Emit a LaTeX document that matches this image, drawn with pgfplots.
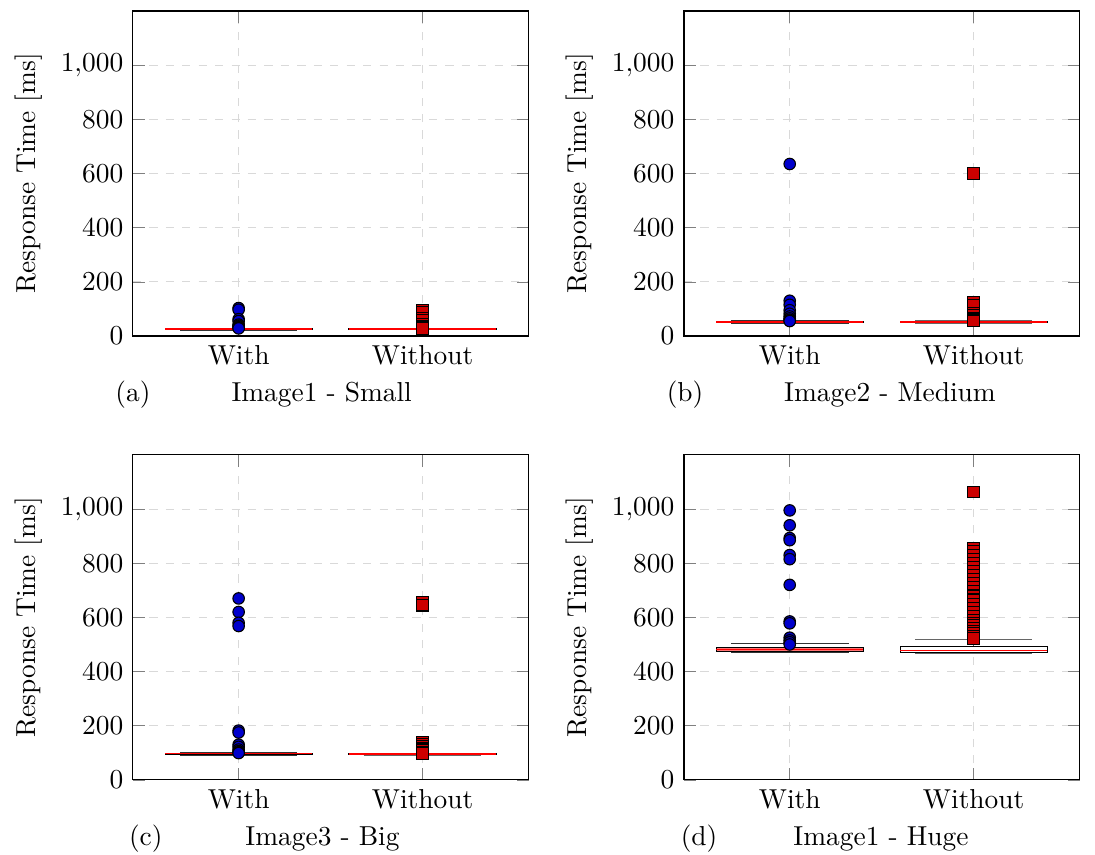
\documentclass[border=0pt]{standalone}
\usepackage{pgfplots}
\pgfplotsset{compat=1.18}
\pgfplotsset{
  myax/.style={scale only axis, width=144.5pt, height=118.6pt,
    xmin=0.425, xmax=2.578, ymin=0, ymax=1200,
    ytick={0,200,...,1000}, xtick={1,2}, xticklabels={With,Without},
    ylabel={Response Time [ms]},
    grid=major, grid style={dashed, gray!30},
    major tick style={gray}},
  withpts/.style={only marks, mark=*, mark size=2.1pt,
    mark options={fill=blue!80!black, draw=black}},
  withoutpts/.style={only marks, mark=square*, mark size=2.1pt,
    mark options={fill=red!80!black, draw=black}},
}
% #1 lower whisker, #2 lower quartile, #3 median, #4 upper quartile, #5 upper whisker
\newcommand{\boxWith}[5]{%
  \addplot[black!80, mark=none] coordinates {(0.68,#1) (1.32,#1)};
  \addplot[black!80, mark=none] coordinates {(0.68,#5) (1.32,#5)};
  \addplot[black!80, mark=none] coordinates {(1,#1) (1,#2)};
  \addplot[black!80, mark=none] coordinates {(1,#4) (1,#5)};
  \addplot[draw=black, fill=red!55, mark=none] coordinates {(0.6,#2) (1.4,#2) (1.4,#4) (0.6,#4) (0.6,#2)};
  \addplot[red, semithick, mark=none] coordinates {(0.6,#3) (1.4,#3)};
}
\newcommand{\boxWithout}[5]{%
  \addplot[black!60, mark=none] coordinates {(1.68,#1) (2.32,#1)};
  \addplot[black!60, mark=none] coordinates {(1.68,#5) (2.32,#5)};
  \addplot[black!60, mark=none] coordinates {(2,#1) (2,#2)};
  \addplot[black!60, mark=none] coordinates {(2,#4) (2,#5)};
  \addplot[draw=black, fill=white, mark=none] coordinates {(1.6,#2) (2.4,#2) (2.4,#4) (1.6,#4) (1.6,#2)};
  \addplot[red, semithick, mark=none] coordinates {(1.6,#3) (2.4,#3)};
}
\begin{document}
\begin{tikzpicture}
\path[use as bounding box] (-48.5pt,-189.1pt) rectangle (351.1pt,122.6pt);
% (a)
\begin{axis}[myax, at={(0pt,0pt)}]
\boxWith{22}{24}{25}{27}{29}
\boxWithout{23}{24}{25}{26}{27}
\addplot[withpts] coordinates {(1,103) (1,97) (1,62) (1,55) (1,42) (1,38) (1,35) (1,32) (1,30) (1,28)};
\addplot[withoutpts] coordinates {(2,95) (2,88) (2,65) (2,58) (2,42) (2,36) (2,32) (2,29) (2,27)};
\end{axis}
% (b)
\begin{axis}[myax, at={(201.1pt,0pt)}]
\boxWith{48}{50}{52}{54}{56}
\boxWithout{48}{50}{52}{54}{56}
\addplot[withpts] coordinates {(1,635) (1,130) (1,115) (1,95) (1,82) (1,72) (1,65) (1,60) (1,57) (1,55)};
\addplot[withoutpts] coordinates {(2,600) (2,125) (2,115) (2,85) (2,75) (2,65) (2,60) (2,57) (2,55)};
\end{axis}
% (c)
\begin{axis}[myax, at={(0pt,-162pt)}]
\boxWith{92}{95}{97}{99}{102}
\boxWithout{91}{93}{95}{97}{99}
\addplot[withpts] coordinates {(1,670) (1,620) (1,580) (1,568) (1,182) (1,175) (1,130) (1,122) (1,112) (1,106) (1,102) (1,99)};
\addplot[withoutpts] coordinates {(2,655) (2,645) (2,140) (2,132) (2,125) (2,115) (2,108) (2,103) (2,100) (2,97)};
\end{axis}
% (d)
\begin{axis}[myax, at={(201.1pt,-162pt)}]
\boxWith{470}{475}{481}{488}{505}
\boxWithout{467}{470}{478}{491}{519}
\addplot[withpts] coordinates {(1,995) (1,940) (1,893) (1,885) (1,830) (1,815) (1,720) (1,585) (1,578) (1,525) (1,515) (1,508) (1,500)};
\addplot[withoutpts] coordinates {(2,1063) (2,855) (2,845) (2,830) (2,815) (2,800) (2,785) (2,770) (2,755) (2,740) (2,725) (2,710) (2,695) (2,680) (2,665) (2,650) (2,635) (2,620) (2,605) (2,590) (2,580) (2,570) (2,560) (2,550) (2,540) (2,530) (2,522)};
\end{axis}
\node at (0pt,-21.5pt) {(a)};
\node at (68.9pt,-21.5pt) {Image1 - Small};
\node at (201.5pt,-21.5pt) {(b)};
\node at (276.3pt,-21.5pt) {Image2 - Medium};
\node at (4.7pt,-183.5pt) {(c)};
\node at (69.2pt,-183.5pt) {Image3 - Big};
\node at (206.6pt,-183.5pt) {(d)};
\node at (273pt,-183.5pt) {Image1 - Huge};
\end{tikzpicture}
\end{document}
